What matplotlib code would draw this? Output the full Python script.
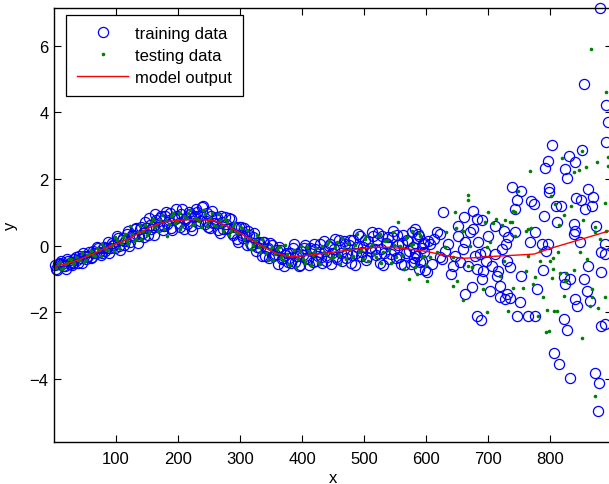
import matplotlib
matplotlib.use("Agg")
import matplotlib.pyplot as plt

plt.rcParams['font.family'] = ['Liberation Sans', 'DejaVu Sans']

# training data (blue circles), dense part, first run
train_x_a = [1, 5, 9, 13, 17, 21, 25, 29, 33, 37,
             41, 45, 49, 53, 57, 61, 65, 69, 73, 77,
             81, 85, 89, 93, 97, 101, 105, 109, 113, 117,
             121, 125, 129, 133, 137, 141, 145, 149, 153, 157,
             161, 165, 169, 173, 177, 181, 185, 189, 193, 197,
             201, 205, 209, 213, 217, 221, 225, 229, 233, 237,
             241, 245, 249, 253, 257, 261, 265, 269, 273, 277,
             281, 285, 289, 293, 297, 301, 305, 309, 313, 317,
             321, 325, 329, 333, 337, 341, 345, 349, 353, 357,
             361, 365, 369, 373, 377, 381, 385, 389, 393, 397,
             401, 405, 409, 413, 417, 421, 425, 429, 433, 437,
             441, 445, 449, 453, 457, 461, 465, 469, 473, 477,
             481, 485, 489, 493, 497, 501, 505, 509, 513, 517,
             521, 525, 529, 533, 537, 541, 545, 549, 553, 557,
             561, 565, 569, 573, 577, 581, 585, 589, 593, 597]
train_y_a = [-0.59, -0.72, -0.51, -0.56, -0.61, -0.40, -0.54, -0.58, -0.40, -0.43,
             -0.31, -0.51, -0.31, -0.35, -0.20, -0.33, -0.21, -0.03, -0.20, -0.23,
             -0.04, -0.06, -0.21, 0.08, 0.02, 0.28, -0.02, 0.17, 0.01, 0.34,
             -0.01, 0.32, 0.29, 0.53, 0.28, 0.57, 0.27, 0.53, 0.83, 0.51,
             0.33, 0.76, 0.63, 0.88, 0.58, 1.02, 0.76, 0.53, 0.87, 1.11,
             0.68, 0.95, 0.51, 0.82, 1.00, 0.60, 0.85, 1.09, 0.67, 0.91,
             1.20, 0.75, 0.56, 0.90, 0.67, 0.81, 0.46, 0.89, 0.51, 0.65,
             0.53, 0.79, 0.31, 0.56, 0.12, 0.57, 0.23, 0.28, 0.45, 0.01,
             0.25, -0.15, 0.09, -0.07, 0.11, -0.31, -0.06, 0.08, -0.32, -0.24,
             -0.55, -0.13, -0.37, -0.27, -0.50, -0.21, -0.08, -0.48, -0.25, -0.57,
             -0.28, 0.03, -0.39, -0.08, -0.49, -0.11, -0.30, 0.04, -0.53, -0.15,
             -0.35, 0.05, -0.22, 0.21, -0.39, -0.05, -0.46, 0.06, -0.21, 0.16,
             -0.29, -0.58, -0.03, 0.28, -0.20, 0.17, -0.33, -0.06, 0.40, -0.11,
             0.16, -0.51, 0.30, -0.23, 0.06, -0.40, 0.26, -0.13, 0.32, -0.33,
             0.08, -0.57, 0.18, -0.15, 0.40, -0.37, 0.22, -0.71, -0.08, 0.07]

# training data, dense part, second run
train_x_c = [3, 7, 11, 15, 19, 23, 27, 31, 35, 39,
             43, 47, 51, 55, 59, 63, 67, 71, 75, 79,
             83, 87, 91, 95, 99, 103, 107, 111, 115, 119,
             123, 127, 131, 135, 139, 143, 147, 151, 155, 159,
             163, 167, 171, 175, 179, 183, 187, 191, 195, 199,
             203, 207, 211, 215, 219, 223, 227, 231, 235, 239,
             243, 247, 251, 255, 259, 263, 267, 271, 275, 279,
             283, 287, 291, 295, 299, 303, 307, 311, 315, 319,
             323, 327, 331, 335, 339, 343, 347, 351, 355, 359,
             363, 367, 371, 375, 379, 383, 387, 391, 395, 399,
             403, 407, 411, 415, 419, 423, 427, 431, 435, 439,
             443, 447, 451, 455, 459, 463, 467, 471, 475, 479,
             483, 487, 491, 495, 499, 503, 507, 511, 515, 519,
             523, 527, 531, 535, 539, 543, 547, 551, 555, 559,
             563, 567, 571, 575, 579, 583, 587, 591, 595, 599]
train_y_c = [-0.70, -0.55, -0.46, -0.60, -0.69, -0.46, -0.48, -0.53, -0.35, -0.53,
             -0.36, -0.22, -0.39, -0.31, -0.37, -0.17, -0.23, -0.06, -0.27, -0.08,
             -0.15, 0.11, -0.07, 0.03, -0.08, 0.23, -0.12, 0.22, 0.14, 0.44,
             0.10, 0.32, 0.49, 0.08, 0.50, 0.37, 0.71, 0.33, 0.63, 0.55,
             0.94, 0.56, 0.83, 0.47, 0.90, 0.65, 0.97, 0.46, 0.80, 0.90,
             0.57, 1.10, 0.78, 0.65, 0.96, 0.47, 0.89, 1.02, 0.74, 1.15,
             0.65, 0.97, 0.54, 1.04, 0.67, 0.86, 0.38, 0.70, 0.85, 0.49,
             0.82, 0.37, 0.57, 0.20, 0.57, 0.31, 0.54, 0.02, 0.32, 0.03,
             0.39, -0.04, 0.11, -0.31, 0.11, -0.09, -0.37, 0.02, -0.29, -0.12,
             -0.03, -0.40, -0.61, -0.23, -0.37, -0.51, 0.05, -0.30, -0.60, -0.16,
             -0.08, -0.37, -0.58, -0.15, 0.04, -0.45, -0.19, -0.33, 0.13, -0.46,
             0.00, -0.55, -0.10, -0.34, 0.18, -0.21, 0.14, -0.38, 0.02, -0.53,
             0.17, -0.21, 0.34, -0.32, -0.04, -0.42, 0.14, -0.15, 0.28, -0.28,
             0.37, -0.09, -0.58, 0.09, 0.27, -0.24, 0.43, -0.37, 0.01, -0.54,
             0.33, -0.23, 0.14, -0.54, -0.05, -0.23, 0.35, -0.48, 0.06, -0.72]

# training data, scattered part
train_x_b = [580, 582, 585, 588, 593, 597, 601, 603, 607, 610, 613, 617, 622, 623, 625,
             627, 631, 636, 640, 644, 646, 651, 652, 655, 660, 661, 663, 663, 668, 671,
             674, 675, 676, 679, 682, 682, 682, 684, 687, 688, 690, 690, 692, 695, 697,
             700, 703, 706, 711, 712, 714, 716, 719, 719, 722, 725, 727, 729, 730, 730,
             733, 736, 736, 739, 744, 744, 747, 746, 752, 754, 754, 765, 768, 770, 774,
             775, 776, 779, 787, 788, 790, 792, 794, 796, 797, 799, 798, 803, 807, 810,
             811, 814, 817, 822, 823, 824, 824, 828, 827, 830, 832, 833, 839, 839, 840,
             841, 841, 842, 843, 848, 850, 851, 855, 855, 857, 859, 862, 862, 865, 868,
             869, 873, 874, 878, 879, 880, 883, 883, 883, 889, 889, 889, 891, 891, 894]
train_y_b = [-0.50, 0.50, -0.30, 0.30, -0.45, -0.20, -0.80, 0.15, 0.05, -0.55, 0.20, 0.42, 0.35, -0.35, -0.40,
             1.00, -0.15, 0.05, -0.85, -0.60, -0.30, 0.60, 0.30, -0.50, -0.10, 0.87, -1.45, 0.10, -0.60, 0.40,
             -1.25, 1.05, 0.50, -0.30, 0.80, -0.70, -2.10, 0.10, -0.25, -2.23, 0.78, -1.00, -0.75, -0.20, -0.45,
             0.30, -1.35, -0.60, -0.25, 0.60, -0.90, -0.75, -1.20, -1.55, -0.10, 0.45, -1.60, 0.05, -0.45, -1.45,
             0.25, -0.65, -1.57, 1.77, 1.10, 0.42, 1.37, -2.12, -1.70, 1.65, -0.90, -2.12, 0.10, 1.35, 1.24,
             -2.12, 0.40, -1.30, 0.05, -0.72, 0.90, 2.32, -0.15, 2.55, 0.05, 1.72, 1.62, 3.02, -3.22, 1.20,
             0.70, -3.55, 1.20, -0.95, -2.20, 2.30, -1.15, -2.52, 2.02, 2.68, -1.00, -3.97, 0.65, 0.35, -1.60,
             2.50, 0.45, 1.42, -1.80, 0.10, 1.37, 2.88, -1.00, 4.85, 1.10, -1.35, 1.70, -0.60, -1.65, 1.20,
             1.46, -3.83, 0.60, -4.96, -4.13, 7.13, -0.20, -0.78, -2.40, -2.35, 0.05, -0.25, 3.10, 4.22, 3.72]

# testing data (green dots)
test_x_a = [3, 9, 15, 21, 27, 33, 39, 45, 51, 57,
            63, 69, 75, 81, 87, 93, 99, 105, 111, 117,
            123, 129, 135, 141, 147, 153, 159, 165, 171, 177,
            183, 189, 195, 201, 207, 213, 219, 225, 231, 237,
            243, 249, 255, 261, 267, 273, 279, 285, 291, 297,
            303, 309, 315, 321, 327, 333, 339, 345, 351, 357,
            363, 369, 375, 381, 387, 393, 399, 405, 411, 417,
            423, 429, 435, 441, 447, 453, 459, 465, 471, 477,
            483, 489, 495, 501, 507, 513, 519, 525, 531, 537,
            543, 549, 555, 561, 567, 573, 579, 585, 591, 597]
test_y_a = [-0.66, -0.50, -0.68, -0.51, -0.40, -0.53, -0.42, -0.23, -0.43, -0.24,
            -0.27, -0.08, -0.32, -0.03, -0.12, 0.02, 0.25, -0.07, 0.26, 0.13,
            0.58, 0.15, 0.42, 0.21, 0.63, 0.42, 0.81, 0.60, 0.77, 0.49,
            0.29, 0.89, 0.68, 0.97, 0.59, 0.84, 1.06, 0.66, 0.80, 0.56,
            0.94, 0.71, 0.99, 0.58, 0.76, 0.43, 0.70, 0.44, 0.69, 0.37,
            0.54, 0.04, 0.24, 0.02, 0.31, -0.20, 0.00, -0.44, -0.04, -0.24,
            -0.03, -0.44, -0.25, -0.59, -0.14, -0.39, -0.02, -0.52, -0.18, -0.29,
            -0.07, -0.56, -0.18, 0.06, -0.36, -0.04, -0.28, 0.23, -0.41, -0.09,
            -0.32, 0.35, -0.14, 0.20, -0.45, 0.06, -0.33, 0.34, -0.19, 0.16,
            -0.53, 0.02, 0.70, -0.28, 0.23, -1.00, 0.06, -0.86, 0.30, -0.30]
test_x_c = [6, 12, 18, 24, 30, 36, 42, 48, 54, 60,
            66, 72, 78, 84, 90, 96, 102, 108, 114, 120,
            126, 132, 138, 144, 150, 156, 162, 168, 174, 180,
            186, 192, 198, 204, 210, 216, 222, 228, 234, 240,
            246, 252, 258, 264, 270, 276, 282, 288, 294, 300,
            306, 312, 318, 324, 330, 336, 342, 348, 354, 360,
            366, 372, 378, 384, 390, 396, 402, 408, 414, 420,
            426, 432, 438, 444, 450, 456, 462, 468, 474, 480,
            486, 492, 498, 504, 510, 516, 522, 528, 534, 540,
            546, 552, 558, 564, 570, 576, 582, 588, 594, 600]
test_y_c = [-0.55, -0.69, -0.55, -0.41, -0.54, -0.35, -0.43, -0.49, -0.28, -0.17,
            -0.32, -0.13, 0.05, -0.14, -0.02, -0.17, 0.18, 0.08, 0.34, 0.06,
            0.35, 0.19, 0.61, 0.44, 0.32, 0.70, 0.55, 0.43, 0.92, 0.76,
            0.64, 0.97, 0.74, 0.49, 0.89, 0.98, 0.62, 0.84, 0.74, 1.08,
            0.58, 0.84, 0.62, 0.94, 0.60, 0.79, 0.33, 0.59, 0.40, 0.58,
            0.19, 0.48, -0.09, 0.16, -0.04, 0.19, -0.23, -0.10, -0.43, -0.10,
            -0.33, 0.03, -0.54, -0.31, -0.64, -0.17, -0.41, -0.04, -0.58, -0.19,
            -0.49, -0.02, -0.25, 0.14, -0.33, 0.10, -0.55, -0.07, 0.07, -0.34,
            0.02, -0.18, -0.41, 0.29, -0.03, -0.26, 0.30, -0.51, 0.13, -0.12,
            0.42, -0.35, 0.00, -0.69, 0.26, 0.02, -0.63, 0.39, -0.34, -0.58]
test_x_b = [577, 602, 606, 617, 631, 633, 644, 644, 646, 648, 650, 659, 660, 667, 668,
            668, 671, 674, 692, 695, 698, 698, 700, 703, 708, 713, 719, 722, 725, 727,
            732, 735, 739, 741, 741, 744, 744, 749, 757, 761, 762, 765, 765, 768, 770,
            773, 776, 781, 784, 784, 789, 793, 795, 799, 800, 802, 803, 805, 805, 807,
            808, 812, 813, 815, 816, 819, 822, 822, 824, 825, 834, 838, 838, 847, 848,
            851, 852, 854, 858, 859, 865, 866, 867, 868, 872, 873, 873, 875, 878, 881,
            888, 889, 890, 891, 893, 893]
test_y_b = [0.45, -1.07, -0.35, -0.20, -0.05, 0.40, -1.22, -0.35, 1.00, 0.52, -1.05, -1.63, 0.45, 1.53, 1.36,
            -0.60, 0.00, -0.65, -1.30, 0.70, -1.98, -0.05, 1.02, 0.10, 0.67, 0.80, -0.90, 0.63, -0.45, 0.77,
            -1.95, 0.70, 0.72, -1.28, 1.05, 0.30, 1.00, 1.65, -1.28, 0.45, -0.75, 0.50, -0.30, 2.24, 0.52,
            -1.15, -0.95, -2.12, -0.45, -0.15, -1.55, -2.60, -1.93, -2.55, -0.45, 1.49, -0.98, -0.38, -0.70, -1.96,
            1.25, -1.96, -0.20, 0.63, -0.83, 2.62, 0.93, -1.50, -1.05, -0.83, 1.20, 2.22, -0.72, 2.28, -0.18,
            2.85, -2.77, 0.78, 2.36, -0.40, -1.80, 5.90, -1.55, -1.30, -4.50, 0.40, 0.55, 2.52, -1.88, 0.20,
            1.28, -1.55, 4.60, 0.45, 2.40, 2.65]

# model output (red line)
model_x = [1, 20, 40, 60, 80, 100, 120, 140, 160, 180, 200, 220, 240, 260, 280,
           300, 320, 340, 360, 380, 400, 420, 440, 460, 480, 500, 520, 540, 560, 580,
           600, 620, 640, 660, 680, 700, 720, 740, 760, 775, 790, 810, 830, 850, 870, 900]
model_y = [-0.62, -0.55, -0.42, -0.27, -0.10, 0.05, 0.20, 0.40, 0.60, 0.72, 0.76, 0.78, 0.78, 0.74, 0.58,
           0.38, 0.15, -0.07, -0.24, -0.33, -0.31, -0.27, -0.22, -0.17, -0.12, -0.08, -0.05, -0.05, -0.08, -0.12,
           -0.17, -0.25, -0.33, -0.38, -0.36, -0.33, -0.31, -0.29, -0.27, -0.25, -0.15, -0.03, 0.08, 0.19, 0.30, 0.47]

train_x = train_x_a + train_x_c + train_x_b
train_y = train_y_a + train_y_c + train_y_b
test_x = test_x_a + test_x_c + test_x_b
test_y = test_y_a + test_y_c + test_y_b

fig = plt.figure(figsize=(6.09, 4.85), dpi=100)
# axes run past the right edge of the picture, as in the original
ax = fig.add_axes([54 / 609, 41.7 / 485, 558 / 609, 434.3 / 485])

ax.plot(train_x, train_y, 'o', mfc='none', mec='b', ms=7.3, mew=0.9,
        clip_on=False, label='training data')
ax.plot(test_x, test_y, 'o', color=(0, 0.5, 0), ms=2.6, mew=0,
        clip_on=False, label='testing data')
ax.plot(model_x, model_y, '-', color='r', lw=1.0, label='model output')

ax.set_xlim(0, 900)
ax.set_ylim(-5.9, 7.13)
ax.set_xticks([100, 200, 300, 400, 500, 600, 700, 800])
ax.set_yticks([-4, -2, 0, 2, 4, 6])
ax.tick_params(direction='in', top=True, right=True, length=5, width=0.8,
               labelsize=12)
ax.tick_params(axis='x', pad=6)
ax.tick_params(axis='y', pad=4)
for s in ax.spines.values():
    s.set_linewidth(1.0)

ax.set_xlabel('x', fontsize=12, labelpad=3)
ax.set_ylabel('y', fontsize=12, labelpad=8)

leg = ax.legend(loc='upper left', bbox_to_anchor=(0.0215, 0.984),
                borderaxespad=0, fancybox=False, edgecolor='k', framealpha=1,
                handlelength=3.1, numpoints=1, labelspacing=0.42, borderpad=0.65,
                handletextpad=0.4, fontsize=12)
leg.get_frame().set_linewidth(0.9)

fig.savefig('out.png', dpi=100)
